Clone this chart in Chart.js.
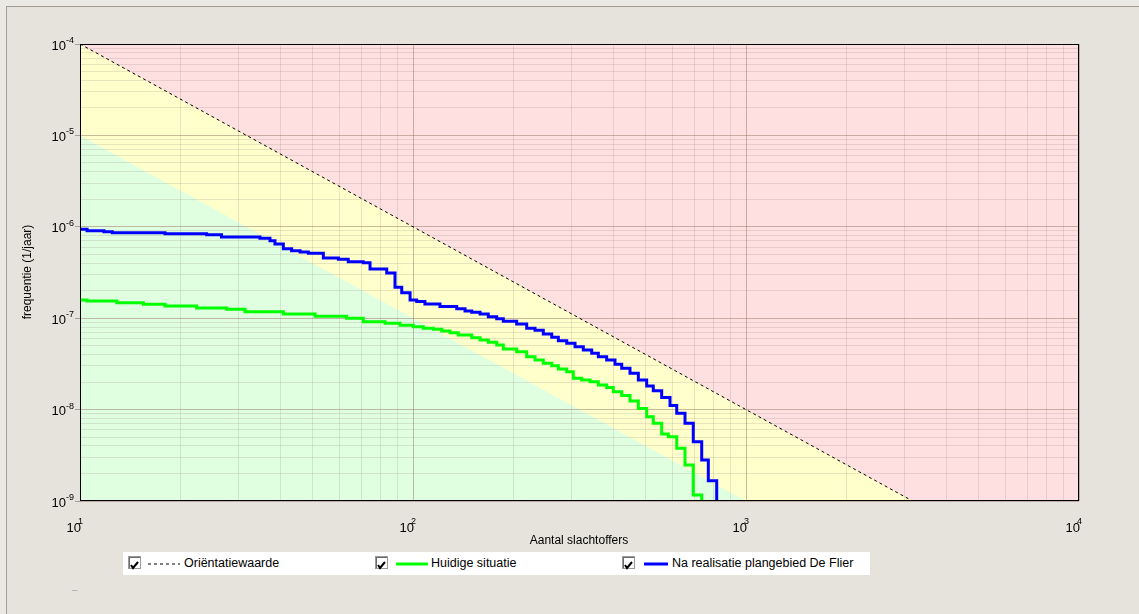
<!DOCTYPE html>
<html>
<head>
<meta charset="utf-8">
<title>FN-curve De Flier</title>
<script src="https://cdn.jsdelivr.net/npm/chart.js@4.4.0/dist/chart.umd.min.js"></script>
<style>
  html, body { margin: 0; padding: 0; }
  body { width: 1139px; height: 614px; background: #ebe9e4; position: relative; overflow: hidden;
         font-family: "Liberation Sans", Arial, sans-serif; }
  #panel { position: absolute; left: 6px; top: 6px; width: 1140px; height: 620px; background: #e6e3dd;
           border-left: 1px solid #a19d95; border-top: 1px solid #a19d95; }
  #fnChart { position: absolute; left: 0; top: 0; }
  #legend { position: absolute; left: 123px; top: 552px; width: 747px; height: 23px; background: #fff; }
  #legend .part { position: absolute; top: 0; height: 23px; }
  #legend .txt { font-size: 12.5px; line-height: 23px; color: #000; white-space: nowrap; }
  .check { top: 4px !important; width: 11px; height: 11px !important; background: #fff;
           border: 1px solid #9a9a9a; box-shadow: inset 1px 1px 0 #6a6a6a; }
  #dash { position: absolute; left: 72px; top: 584px; font-size: 10px; color: #a8a8a8; }
</style>
</head>
<body>
<div id="panel"></div>
<canvas id="fnChart" width="1139" height="614"></canvas>
<div id="legend"></div>
<div id="dash">–</div>
<script>
// Oriëntatiewaarde (1e-2 / N^2) and lower limit of the yellow zone
const normN = [10, 10000];
const normF = [1e-4, 1e-10];
const lowerF = [1e-5, 1e-11];

// Huidige situatie (step curve: start of each step)
const huidigN = [10, 10.5, 12.9, 15.5, 18.0, 22.4, 27.6, 31.3, 40.8, 50.8,
    63.2, 70.9, 82.4, 91.4, 100.2, 107.4, 115.1, 122.0, 129.2, 136.8,
    150.1, 159.0, 168.3, 178.4, 186.7, 204.8, 219.5, 232.5, 246.2, 261.0,
    273.2, 289.5, 303.0, 321.0, 340.1, 360.2, 381.6, 399.5, 423.4, 448.4,
    475.0, 503.2, 526.7, 558.2, 584.4, 619.4, 655.9, 694.5, 736.2];
const huidigF = [1.58e-7, 1.54e-7, 1.48e-7, 1.42e-7, 1.36e-7, 1.29e-7, 1.25e-7, 1.18e-7, 1.11e-7, 1.05e-7,
    9.97e-8, 9.16e-8, 8.79e-8, 8.36e-8, 8.07e-8, 7.75e-8, 7.56e-8, 7.24e-8, 6.94e-8, 6.55e-8,
    6.12e-8, 5.77e-8, 5.45e-8, 5.09e-8, 4.60e-8, 4.30e-8, 3.79e-8, 3.49e-8, 3.21e-8, 3.02e-8,
    2.78e-8, 2.60e-8, 2.20e-8, 2.11e-8, 2.02e-8, 1.86e-8, 1.75e-8, 1.57e-8, 1.43e-8, 1.24e-8,
    1.03e-8, 8.36e-9, 7.08e-9, 5.41e-9, 5.05e-9, 3.77e-9, 2.48e-9, 1.16e-9, 1e-10];

// Na realisatie plangebied De Flier
const flierN = [10, 10.5, 11.8, 12.5, 18.0, 24.0, 26.6, 34.7, 37.2, 38.5,
    40.8, 43.2, 45.8, 48.5, 53.8, 59.7, 63.9, 70.9, 74.3, 83.4,
    88.3, 92.5, 98.0, 102.6, 108.6, 120.5, 135.3, 143.3, 150.1, 159.0,
    168.3, 178.4, 186.7, 204.8, 219.5, 232.5, 246.2, 261.0, 273.2, 289.5,
    306.6, 324.7, 344.1, 360.2, 381.6, 404.2, 423.4, 448.4, 475.0, 503.2,
    526.7, 558.2, 591.3, 619.4, 655.9, 694.5, 736.2, 770.6, 816.6];
const flierF = [9.39e-7, 9.06e-7, 8.84e-7, 8.62e-7, 8.40e-7, 8.19e-7, 7.73e-7, 7.48e-7, 7.05e-7, 6.48e-7,
    5.76e-7, 5.48e-7, 5.30e-7, 5.13e-7, 4.56e-7, 4.41e-7, 4.15e-7, 4.05e-7, 3.45e-7, 3.12e-7,
    2.18e-7, 1.90e-7, 1.58e-7, 1.52e-7, 1.43e-7, 1.34e-7, 1.27e-7, 1.20e-7, 1.16e-7, 1.11e-7,
    1.04e-7, 9.87e-8, 9.25e-8, 8.64e-8, 7.75e-8, 7.37e-8, 6.72e-8, 6.18e-8, 5.67e-8, 5.31e-8,
    4.88e-8, 4.49e-8, 4.13e-8, 3.79e-8, 3.49e-8, 3.13e-8, 2.83e-8, 2.50e-8, 2.11e-8, 1.81e-8,
    1.61e-8, 1.36e-8, 1.11e-8, 9.11e-9, 7.08e-9, 4.45e-9, 2.81e-9, 1.67e-9, 1e-10];

// Axes: decades (labelled) and the multipliers for the minor grid
const xDecades = [1, 2, 3, 4];
const yDecades = [-9, -8, -7, -6, -5, -4];
const minorSteps = [1, 2, 3, 4, 5, 6, 7, 8, 9];

const legendItems = [
    { label: 'Oriëntatiewaarde', color: '#000000', width: 1, dash: '3,3', check: 5, line: [25, 57], text: 61 },
    { label: 'Huidige situatie', color: '#00ff00', width: 3, dash: '', check: 252, line: [273, 305], text: 308 },
    { label: 'Na realisatie plangebied De Flier', color: '#0000ff', width: 3, dash: '', check: 499, line: [521, 545], text: 549 }
];

// Build tick list for a log axis
function logTicks(decades) {
    const ticks = [];
    for (let i = 0; i < decades.length; i++) {
        const base = Math.pow(10, decades[i]);
        const steps = i === decades.length - 1 ? [1] : minorSteps;
        steps.forEach(m => ticks.push({ value: m * base, major: m === 1 }));
    }
    return ticks;
}

function isDecade(v) {
    const l = Math.log10(v);
    return Math.abs(l - Math.round(l)) < 1e-6;
}

function gridColor(ctx) {
    if (!ctx.tick) return 'transparent';
    return isDecade(ctx.tick.value) ? 'rgba(150, 115, 100, 0.5)' : 'rgba(130, 110, 110, 0.18)';
}

function toPoints(xs, ys) {
    return xs.map((x, i) => ({ x: x, y: ys[i] }));
}

// Coloured risk zones, drawn before the grid
const zonePlugin = {
    id: 'zones',
    beforeDraw(chart) {
        const { ctx, chartArea: a, scales: { x, y } } = chart;
        ctx.save();
        ctx.beginPath();
        ctx.rect(a.left, a.top, a.right - a.left, a.bottom - a.top);
        ctx.clip();
        ctx.fillStyle = '#ffffcc';
        ctx.fillRect(a.left, a.top, a.right - a.left, a.bottom - a.top);

        // above the oriëntatiewaarde
        ctx.fillStyle = '#ffe0e0';
        ctx.beginPath();
        ctx.moveTo(x.getPixelForValue(normN[0]), y.getPixelForValue(normF[0]));
        ctx.lineTo(x.getPixelForValue(normN[1]), y.getPixelForValue(normF[1]));
        ctx.lineTo(x.getPixelForValue(normN[1]), y.getPixelForValue(normF[0]) - 2);
        ctx.lineTo(x.getPixelForValue(normN[0]) - 2, y.getPixelForValue(normF[0]) - 2);
        ctx.closePath();
        ctx.fill();

        // below the lower limit
        ctx.fillStyle = '#e0ffe0';
        ctx.beginPath();
        ctx.moveTo(x.getPixelForValue(normN[0]), y.getPixelForValue(lowerF[0]));
        ctx.lineTo(x.getPixelForValue(normN[1]), y.getPixelForValue(lowerF[1]));
        ctx.lineTo(x.getPixelForValue(normN[0]) - 2, y.getPixelForValue(lowerF[1]));
        ctx.closePath();
        ctx.fill();
        ctx.restore();
    }
};

// Frame, tick labels with exponents and axis titles
const labelPlugin = {
    id: 'labels',
    afterDraw(chart) {
        const { ctx, chartArea: a, scales: { x, y } } = chart;
        ctx.save();
        ctx.strokeStyle = '#000';
        ctx.lineWidth = 1;
        ctx.strokeRect(a.left + 0.5, a.top + 0.5, a.right - a.left - 1, a.bottom - a.top - 1);

        ctx.fillStyle = '#000';
        // y labels
        yDecades.forEach(e => {
            const py = y.getPixelForValue(Math.pow(10, e));
            ctx.font = '13px "Liberation Sans", Arial, sans-serif';
            ctx.textAlign = 'right';
            ctx.textBaseline = 'middle';
            ctx.fillText('10', a.left - 14, py + 2);
            ctx.font = '9px "Liberation Sans", Arial, sans-serif';
            ctx.textAlign = 'left';
            ctx.textBaseline = 'alphabetic';
            ctx.fillText(String(e), a.left - 14, py - 1);
        });
        // x labels
        xDecades.forEach(e => {
            const px = x.getPixelForValue(Math.pow(10, e));
            ctx.font = '13px "Liberation Sans", Arial, sans-serif';
            ctx.textAlign = 'right';
            ctx.textBaseline = 'alphabetic';
            ctx.fillText('10', px + 1, 532);
            ctx.font = '9px "Liberation Sans", Arial, sans-serif';
            ctx.textAlign = 'left';
            ctx.fillText(String(e), px - 2, 524);
        });
        // axis titles
        ctx.font = '12px "Liberation Sans", Arial, sans-serif';
        ctx.textAlign = 'center';
        ctx.textBaseline = 'middle';
        ctx.fillText('Aantal slachtoffers', 579, 541);
        ctx.translate(28, 272);
        ctx.rotate(-Math.PI / 2);
        ctx.fillText('frequentie (1/jaar)', 0, 0);
        ctx.restore();
    }
};

// HTML legend with checkboxes
function renderLegend() {
    const box = document.getElementById('legend');
    legendItems.forEach(item => {
        const check = document.createElement('div');
        check.className = 'part check';
        check.style.left = item.check + 'px';
        check.innerHTML = '<svg width="11" height="11"><polyline points="2,5 4,8 9,2" fill="none" stroke="#000" stroke-width="2"/></svg>';
        box.appendChild(check);

        const w = item.line[1] - item.line[0];
        const line = document.createElement('div');
        line.className = 'part';
        line.style.left = item.line[0] + 'px';
        line.innerHTML = '<svg width="' + w + '" height="23"><line x1="0" y1="12" x2="' + w + '" y2="12" stroke="' +
            item.color + '" stroke-width="' + item.width + '"' + (item.dash ? ' stroke-dasharray="' + item.dash + '"' : '') + '/></svg>';
        box.appendChild(line);

        const text = document.createElement('div');
        text.className = 'part txt';
        text.style.left = item.text + 'px';
        text.textContent = item.label;
        box.appendChild(text);
    });
}

function renderChart() {
    const ctx = document.getElementById('fnChart').getContext('2d');
    new Chart(ctx, {
        type: 'line',
        data: {
            datasets: [
                {
                    label: 'Oriëntatiewaarde',
                    data: toPoints(normN, normF),
                    borderColor: '#000000',
                    borderWidth: 1,
                    borderDash: [3, 3],
                    pointRadius: 0
                },
                {
                    label: 'Huidige situatie',
                    data: toPoints(huidigN, huidigF),
                    borderColor: '#00ff00',
                    borderWidth: 3,
                    stepped: 'before',
                    pointRadius: 0
                },
                {
                    label: 'Na realisatie plangebied De Flier',
                    data: toPoints(flierN, flierF),
                    borderColor: '#0000ff',
                    borderWidth: 3,
                    stepped: 'before',
                    pointRadius: 0
                }
            ]
        },
        options: {
            responsive: false,
            animation: false,
            devicePixelRatio: 1,
            layout: { padding: { left: 0, top: 44, right: 60, bottom: 0 } },
            plugins: {
                legend: { display: false },
                tooltip: { enabled: false }
            },
            scales: {
                x: {
                    type: 'logarithmic',
                    min: 10,
                    max: 10000,
                    afterBuildTicks: s => { s.ticks = logTicks(xDecades); },
                    afterFit: s => { s.height = 113; },
                    ticks: { display: false },
                    border: { display: false },
                    grid: { color: gridColor, drawTicks: false }
                },
                y: {
                    type: 'logarithmic',
                    min: 1e-9,
                    max: 1e-4,
                    afterBuildTicks: s => { s.ticks = logTicks(yDecades); },
                    afterFit: s => { s.width = 80; },
                    ticks: { display: false },
                    border: { display: false },
                    grid: {
                        color: gridColor,
                        drawTicks: true,
                        tickLength: 5,
                        tickColor: c => (c.tick && isDecade(c.tick.value)) ? '#a0a0a0' : 'transparent'
                    }
                }
            }
        },
        plugins: [zonePlugin, labelPlugin]
    });
}

function init() {
    renderLegend();
    renderChart();
}

document.addEventListener('DOMContentLoaded', init);
</script>
</body>
</html>
